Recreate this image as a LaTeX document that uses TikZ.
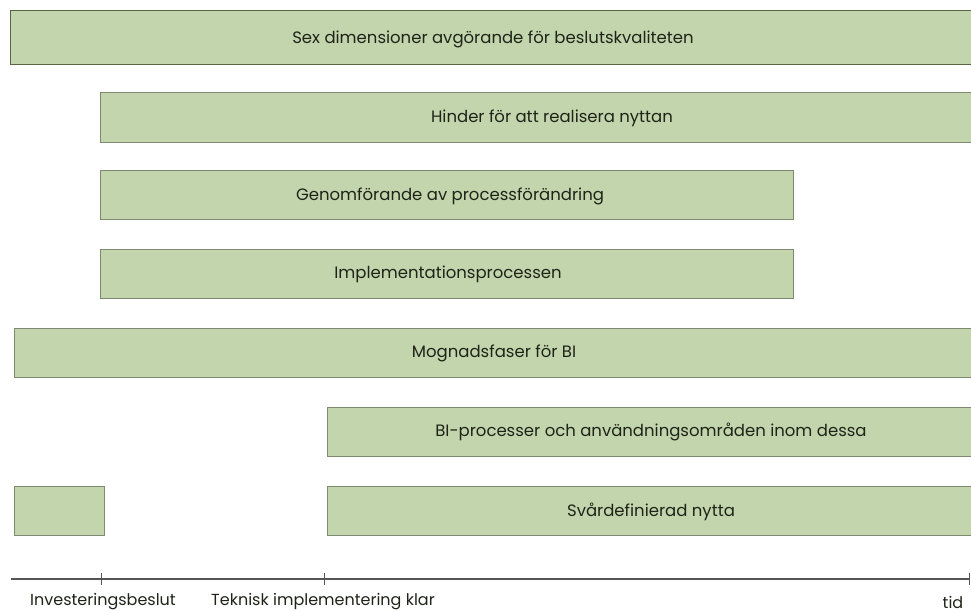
\documentclass[tikz,border=0pt]{standalone}
\usepackage{fontspec}
\setmainfont{Poppins}
\definecolor{boxfill}{HTML}{C3D5AD}
\definecolor{boxline}{HTML}{7E8A70}
\definecolor{topline}{HTML}{56673F}
\definecolor{txt}{HTML}{1E2418}
\definecolor{axis}{HTML}{555555}
\tikzset{
  bar/.style={draw=boxline, line width=0.9pt, fill=boxfill},
  bartext/.style={font=\fontsize{16.5}{19}\selectfont, text=txt, anchor=center},
  axlabel/.style={font=\fontsize{16}{19}\selectfont, text=txt, anchor=center, inner sep=1pt},
}
\begin{document}
\begin{tikzpicture}[x=1pt,y=-1pt]
\useasboundingbox (0,0) rectangle (971,612);
\begin{scope}
\clip (0,0) rectangle (971,612);
\draw[bar, draw=topline] (10,10) rectangle (975,64);
\node[bartext] (t1) at (493,39) {Sex dimensioner avgörande för beslutskvaliteten};
\draw[bar] (100,92) rectangle (975,142);
\node[bartext] (t2) at (552,118) {Hinder för att realisera nyttan};
\draw[bar] (100,170) rectangle (793,219);
\node[bartext] (t3) at (450,196) {Genomförande av processförändring};
\draw[bar] (100,249) rectangle (793,298);
\node[bartext] (t4) at (448,274) {Implementationsprocessen};
\draw[bar] (14,328) rectangle (975,377);
\node[bartext] (t5) at (494,353) {Mognadsfaser för BI};
\draw[bar] (327,407) rectangle (975,456);
\node[bartext] (t6) at (651,432) {BI-processer och användningsområden inom dessa};
\draw[bar] (14,486) rectangle (104,535);
\draw[bar] (327,486) rectangle (975,535);
\node[bartext] (t7) at (651,512) {Svårdefinierad nytta};
\end{scope}
% axis
\coordinate (a0) at (11,579);
\coordinate (a1) at (969,579);
\draw[axis, line width=1.2pt] (a0) -- (a1);
\coordinate (k1) at (101,579);
\coordinate (k2) at (324,579);
\draw[axis, line width=0.8pt] ([yshift=-6pt]k1) -- ([yshift=6pt]k1);
\draw[axis, line width=0.8pt] ([yshift=-6pt]k2) -- ([yshift=6pt]k2);
\draw[axis, line width=0.8pt] ([yshift=-6pt]a1) -- ([yshift=6pt]a1);
\node[axlabel] (l1) at (103,602) {Investeringsbeslut};
\node[axlabel] (l2) at (323,602) {Teknisk implementering klar};
\node[axlabel] (l3) at (953,602) {tid};
\end{tikzpicture}
\end{document}
